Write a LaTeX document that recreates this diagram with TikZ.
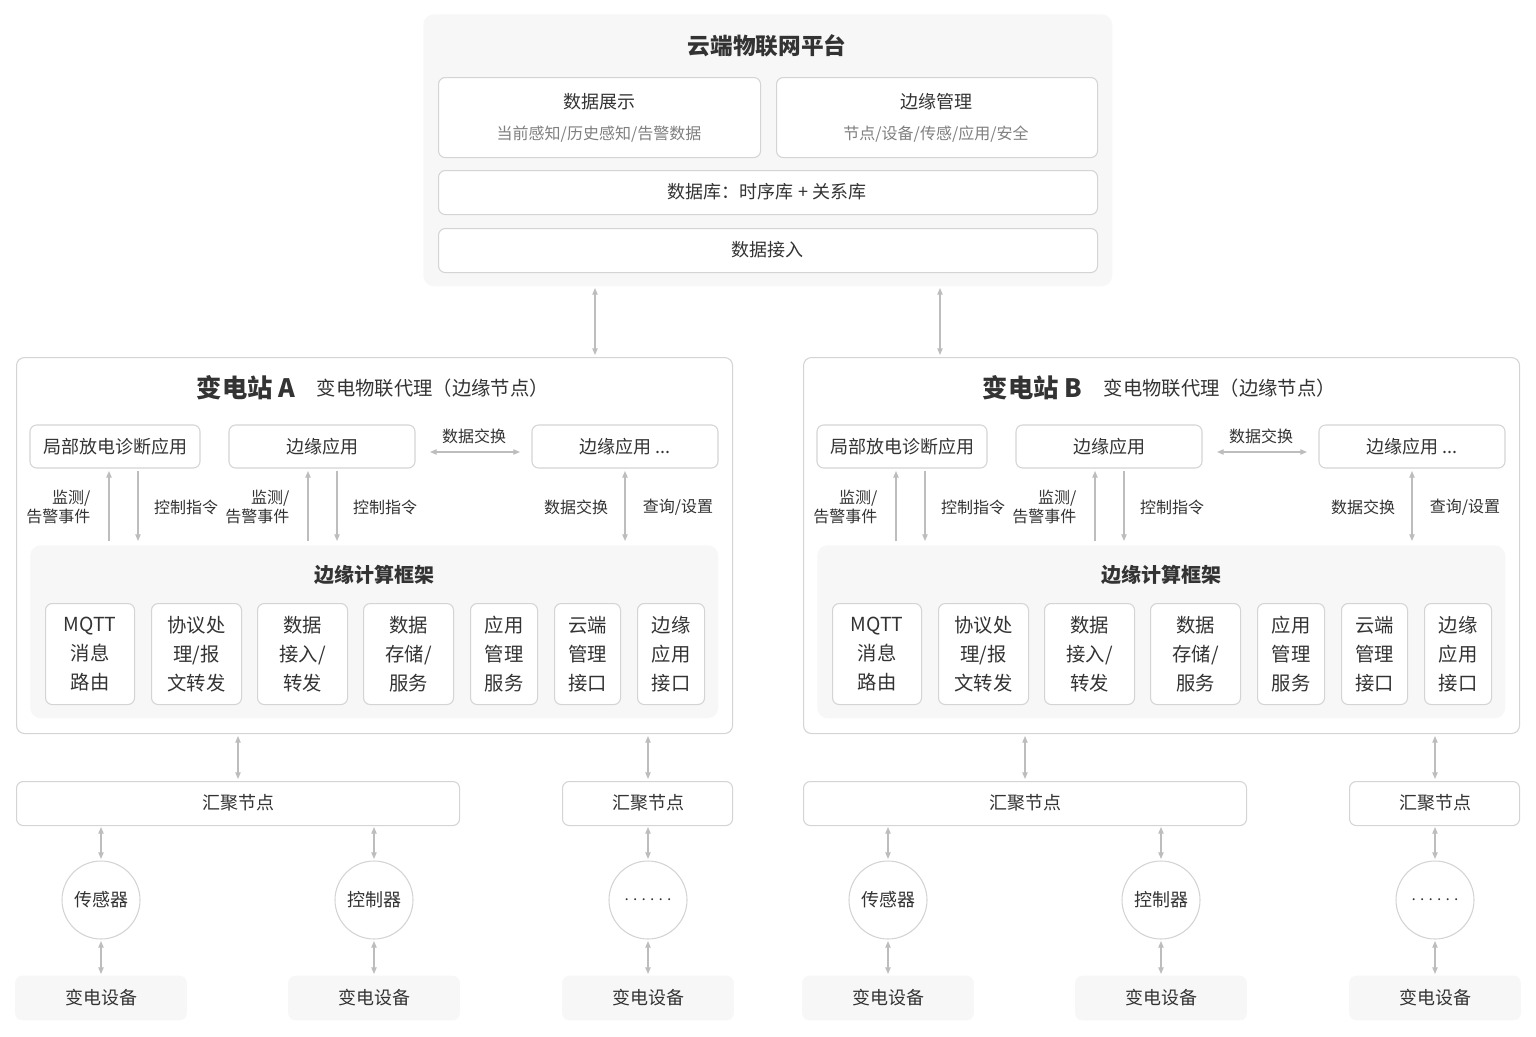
\documentclass[tikz,border=0pt]{standalone}
\usepackage{fontspec}
\setmainfont{Noto Sans CJK SC}
\usetikzlibrary{arrows.meta}
\definecolor{bd}{HTML}{D4D4D4}
\definecolor{tx}{HTML}{333333}
\definecolor{pn}{HTML}{F7F7F7}
\definecolor{ar}{HTML}{BDBDBD}
\begin{document}
\begin{tikzpicture}[x=0.75pt,y=-0.75pt,font=\fontsize{13.5}{16}\selectfont,text=tx,
 box/.style={draw=bd,fill=white,rounded corners=5pt,line width=0.8pt},
 pan/.style={fill=pn,rounded corners=8pt},
 dev/.style={fill=pn,draw=pn,rounded corners=5pt},
 ar/.style={draw=ar,line width=0.9pt,-{Triangle[length=5pt,width=4pt]}},
 dar/.style={draw=ar,line width=0.9pt,{Triangle[length=5pt,width=4pt]}-{Triangle[length=5pt,width=4pt]}},
 sm/.style={font=\fontsize{12}{14}\selectfont},
 ttl/.style={font=\fontsize{17}{20}\selectfont\bfseries}]
\useasboundingbox (0,0) rectangle (1536,1036);
% cloud
\node[pan,minimum width=689*0.75pt,minimum height=272*0.75pt,anchor=north west] (cloud) at (423,14) {};
\node[ttl] (ct) at (767,46) {云端物联网平台};
\node[box,minimum width=322*0.75pt,minimum height=80*0.75pt,anchor=north west] (show) at (438,77) {};
\node (s1) at (599,102) {数据展示};
\node[sm,text=gray] (s2) at (599,134) {当前感知/历史感知/告警数据};
\node[box,minimum width=321*0.75pt,minimum height=80*0.75pt,anchor=north west] (mgmt) at (776,77) {};
\node (m1) at (936,102) {边缘管理};
\node[sm,text=gray] (m2) at (936,134) {节点/设备/传感/应用/安全};
\node[box,minimum width=659*0.75pt,minimum height=44*0.75pt,anchor=north west] (db) at (438,170) {};
\node (dbt) at (767,192) {数据库：时序库 + 关系库};
\node[box,minimum width=659*0.75pt,minimum height=44*0.75pt,anchor=north west] (in) at (438,228) {};
\node (int) at (767,250) {数据接入};
\coordinate (c1) at (595,288); \coordinate (c2) at (940,288);
\coordinate (a1) at (595,355); \coordinate (a2) at (940,355);
\draw[dar] (c1) -- (a1); \draw[dar] (c2) -- (a2);
\foreach \o/\n in {0/A,787/B}{
\begin{scope}[xshift=\o*0.75pt]
\node[box,rounded corners=6pt,minimum width=716*0.75pt,minimum height=376*0.75pt,anchor=north west] (st\n) at (16,357) {};
\node[anchor=east,font=\fontsize{19}{22}\selectfont\bfseries] (stt\n) at (300,388) {变电站 \n};
\node[anchor=west,font=\fontsize{14.5}{17}\selectfont] (sts\n) at (312,388) {变电物联代理（边缘节点）};
\node[box,minimum width=170*0.75pt,minimum height=43*0.75pt] (p1\n) at (115,446.5) {局部放电诊断应用};
\node[box,minimum width=186*0.75pt,minimum height=43*0.75pt] (p2\n) at (322,446.5) {边缘应用};
\node[box,minimum width=186*0.75pt,minimum height=43*0.75pt] (p3\n) at (625,446.5) {边缘应用 ...};
\node[sm] (dx\n) at (474,436) {数据交换};
\coordinate (x1\n) at (430,452); \coordinate (x2\n) at (520,452);
\draw[dar] (x1\n) -- (x2\n);
\node[pan,minimum width=688*0.75pt,minimum height=173*0.75pt,anchor=north west] (fw\n) at (30,545) {};
\node[font=\fontsize{15}{18}\selectfont\bfseries] (fwt\n) at (374,575) {边缘计算框架};
\foreach \i/\l/\r/\t in {1/45/134/{MQTT\\消息\\路由},2/151/241/{协议处\\理/报\\文转发},3/257/347/{数据\\接入/\\转发},4/363/453/{数据\\存储/\\服务},5/470/537/{应用\\管理\\服务},6/554/620/{云端\\管理\\接口},7/637/704/{边缘\\应用\\接口}}{
 \pgfmathsetmacro{\w}{(\r-\l)*0.75}
 \node[box,minimum width=\w pt,minimum height=101*0.75pt,anchor=north west,align=center,font=\fontsize{14.5}{21.5}\selectfont] (md\i\n) at (\l,603) {\t};
}
\coordinate (u1\n) at (109,541); \coordinate (u2\n) at (138,471);
\draw[ar] (u1\n) -- (109,471);
\draw[ar] (138,471) -- (138,541);
\draw[ar] (308,541) -- (308,471);
\draw[ar] (337,471) -- (337,541);
\draw[dar] (625,471) -- (625,541);
\node[sm,align=right,anchor=east] (l1\n) at (95,507) {监测/\\告警事件};
\node[sm] (l2\n) at (186,507) {控制指令};
\node[sm,align=right,anchor=east] (l3\n) at (294,507) {监测/\\告警事件};
\node[sm] (l4\n) at (385,507) {控制指令};
\node[sm] (l5\n) at (576,507) {数据交换};
\node[sm] (l6\n) at (678,507) {查询/设置};
% lower
\node[box,minimum width=443*0.75pt,minimum height=44*0.75pt,anchor=north west] (h1\n) at (16,781) {};
\node (h1t\n) at (238,803) {汇聚节点};
\node[box,minimum width=170*0.75pt,minimum height=44*0.75pt,anchor=north west] (h2\n) at (562,781) {};
\node (h2t\n) at (648,803) {汇聚节点};
\draw[dar] (238,736) -- (238,779);
\draw[dar] (648,736) -- (648,779);
\foreach \cx/\lab/\k in {101/传感器/1,374/控制器/2,648/{$\cdots\cdots$}/3}{
 \node[box,circle,minimum size=78*0.75pt] (ci\k\n) at (\cx,900) {\lab};
 \node[dev,minimum width=171*0.75pt,minimum height=44*0.75pt] (dv\k\n) at (\cx,998) {变电设备};
 \draw[dar] (\cx,827) -- (\cx,859);
 \draw[dar] (\cx,941) -- (\cx,974);
}
\end{scope}}
\end{tikzpicture}
\end{document}
